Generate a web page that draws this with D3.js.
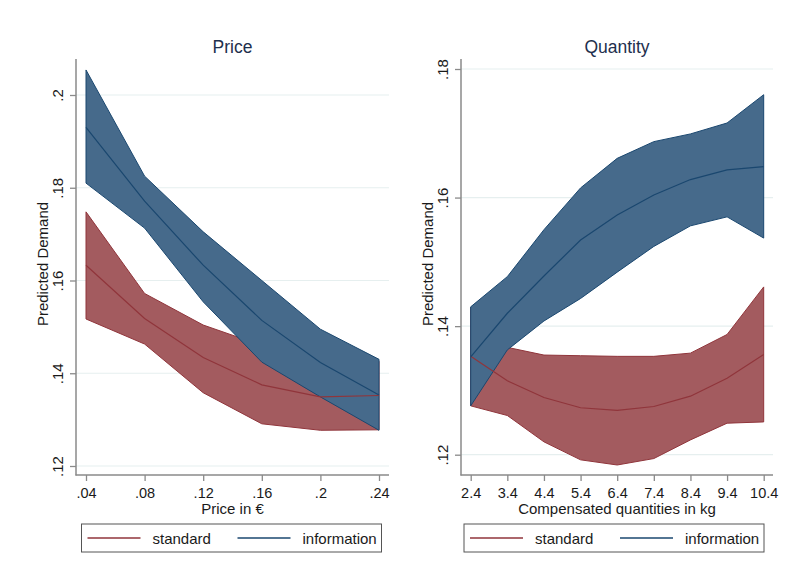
<!DOCTYPE html>
<html>
<head>
<meta charset="utf-8">
<script src="https://cdn.jsdelivr.net/npm/d3@7"></script>
<style>
  html, body { margin: 0; padding: 0; background: #fff; }
  svg { display: block; font-family: "Liberation Sans", Arial, sans-serif; }
</style>
</head>
<body>
<svg id="chart" width="788" height="577"></svg>
<script>
// Predicted demand with 95% bands, by price and by compensated quantity

const seriesNames = ["standard", "information"];

// Price panel
const priceX = [0.04, 0.08, 0.12, 0.16, 0.20, 0.24];
const priceXLabels = [".04", ".08", ".12", ".16", ".2", ".24"];
const priceYTicks = [0.12, 0.14, 0.16, 0.18, 0.20];
const priceYLabels = [".12", ".14", ".16", ".18", ".2"];
const priceStdMean = [0.1633, 0.1518, 0.1434, 0.1375, 0.1349, 0.1352];
const priceStdLo   = [0.1517, 0.1463, 0.1358, 0.1291, 0.1277, 0.1278];
const priceStdHi   = [0.1748, 0.1572, 0.1504, 0.1460, 0.1422, 0.1426];
const priceInfMean = [0.1930, 0.1771, 0.1633, 0.1514, 0.1423, 0.1353];
const priceInfLo   = [0.1810, 0.1713, 0.1554, 0.1424, 0.1349, 0.1277];
const priceInfHi   = [0.2054, 0.1825, 0.1705, 0.1600, 0.1495, 0.1430];

// Quantity panel
const qtyX = [2.4, 3.4, 4.4, 5.4, 6.4, 7.4, 8.4, 9.4, 10.4];
const qtyXLabels = ["2.4", "3.4", "4.4", "5.4", "6.4", "7.4", "8.4", "9.4", "10.4"];
const qtyYTicks = [0.12, 0.14, 0.16, 0.18];
const qtyYLabels = [".12", ".14", ".16", ".18"];
const qtyStdMean = [0.1353, 0.1315, 0.1289, 0.1273, 0.1269, 0.1275, 0.1291, 0.1319, 0.1356];
const qtyStdLo   = [0.1276, 0.1261, 0.1220, 0.1192, 0.1184, 0.1194, 0.1223, 0.1249, 0.1251];
const qtyStdHi   = [0.1429, 0.1367, 0.1355, 0.1354, 0.1353, 0.1353, 0.1358, 0.1387, 0.1461];
const qtyInfMean = [0.1352, 0.1420, 0.1478, 0.1534, 0.1573, 0.1604, 0.1628, 0.1643, 0.1648];
const qtyInfLo   = [0.1276, 0.1363, 0.1408, 0.1443, 0.1484, 0.1524, 0.1556, 0.1570, 0.1537];
const qtyInfHi   = [0.1430, 0.1477, 0.1550, 0.1615, 0.1661, 0.1687, 0.1699, 0.1716, 0.1760];

const lineColor = { standard: "#90353b", information: "#1a476f" };
const fillColor = { standard: "#a35b5f", information: "#466a8b" };
const axisColor = "#8a8a8a";
const gridColor = "#e6efef";
const textColor = "#1a1a1a";
const titleColor = "#1e2f4d";

const svg = d3.select("#chart");

const panels = [
  {
    title: "Price", xTitle: "Price in €",
    left: 76, right: 389, top: 59, bottom: 475,
    xDomain: [0.04, 0.24], xRange: [86, 379],
    yDomain: [0.12, 0.20], yRange: [466, 95],
    x: priceX, xLabels: priceXLabels, yTicks: priceYTicks, yLabels: priceYLabels,
    std: { mean: priceStdMean, lo: priceStdLo, hi: priceStdHi },
    inf: { mean: priceInfMean, lo: priceInfLo, hi: priceInfHi },
    yTitleX: 48, legendX: 81.5
  },
  {
    title: "Quantity", xTitle: "Compensated quantities in kg",
    left: 461, right: 773, top: 59, bottom: 475,
    xDomain: [2.4, 10.4], xRange: [470.7, 763.7],
    yDomain: [0.12, 0.18], yRange: [454.7, 69],
    x: qtyX, xLabels: qtyXLabels, yTicks: qtyYTicks, yLabels: qtyYLabels,
    std: { mean: qtyStdMean, lo: qtyStdLo, hi: qtyStdHi },
    inf: { mean: qtyInfMean, lo: qtyInfLo, hi: qtyInfHi },
    yTitleX: 433, legendX: 464
  }
];

panels.forEach(p => {
  const x = d3.scaleLinear().domain(p.xDomain).range(p.xRange);
  const y = d3.scaleLinear().domain(p.yDomain).range(p.yRange);
  const g = svg.append("g");

  // gridlines
  g.append("g").selectAll("line").data(p.yTicks).join("line")
    .attr("x1", p.left).attr("x2", p.right)
    .attr("y1", d => y(d)).attr("y2", d => y(d))
    .attr("stroke", gridColor).attr("stroke-width", 1.2);

  const rows = (s) => p.x.map((xv, i) => ({ x: xv, mean: s.mean[i], lo: s.lo[i], hi: s.hi[i] }));
  const area = d3.area().x(d => x(d.x)).y0(d => y(d.lo)).y1(d => y(d.hi));
  const line = d3.line().x(d => x(d.x)).y(d => y(d.mean));
  const series = [
    { key: "standard", rows: rows(p.std) },
    { key: "information", rows: rows(p.inf) }
  ];

  // confidence bands
  series.forEach(s => {
    g.append("path").datum(s.rows).attr("d", area)
      .attr("fill", fillColor[s.key])
      .attr("stroke", lineColor[s.key]).attr("stroke-width", 1)
      .attr("stroke-linejoin", "round");
  });
  // predicted means
  series.forEach(s => {
    g.append("path").datum(s.rows).attr("d", line)
      .attr("fill", "none")
      .attr("stroke", lineColor[s.key]).attr("stroke-width", 1.2);
  });

  // y axis
  const yAxis = d3.axisLeft(y).tickValues(p.yTicks)
    .tickFormat((d, i) => p.yLabels[i]).tickSize(6);
  const ya = g.append("g").attr("transform", `translate(${p.left},0)`).call(yAxis);
  ya.select(".domain").remove();
  ya.selectAll(".tick line").attr("stroke", axisColor).attr("stroke-width", 1.3);
  ya.selectAll(".tick text")
    .attr("transform", "rotate(-90)")
    .attr("x", 0).attr("y", -13).attr("dy", 0)
    .attr("text-anchor", "middle")
    .attr("fill", textColor)
    .style("font-size", "15px").style("font-family", "Liberation Sans, Arial, sans-serif");
  g.append("line")
    .attr("x1", p.left).attr("x2", p.left).attr("y1", p.top).attr("y2", p.bottom + 0.5)
    .attr("stroke", axisColor).attr("stroke-width", 1.5);

  // x axis
  const xAxis = d3.axisBottom(x).tickValues(p.x)
    .tickFormat((d, i) => p.xLabels[i]).tickSize(6);
  const xa = g.append("g").attr("transform", `translate(0,${p.bottom})`).call(xAxis);
  xa.select(".domain").remove();
  xa.selectAll(".tick line").attr("stroke", axisColor).attr("stroke-width", 1.3);
  xa.selectAll(".tick text")
    .attr("y", 23).attr("dy", 0)
    .attr("fill", textColor)
    .style("font-size", "14.5px").style("font-family", "Liberation Sans, Arial, sans-serif");
  g.append("line")
    .attr("x1", p.left - 0.5).attr("x2", p.right).attr("y1", p.bottom).attr("y2", p.bottom)
    .attr("stroke", axisColor).attr("stroke-width", 1.5);

  // titles
  g.append("text").text(p.title)
    .attr("x", (p.left + p.right) / 2).attr("y", 53)
    .attr("text-anchor", "middle").attr("fill", titleColor)
    .style("font-size", "17.5px");
  g.append("text").text(p.xTitle)
    .attr("x", (p.left + p.right) / 2).attr("y", 514)
    .attr("text-anchor", "middle").attr("fill", textColor)
    .style("font-size", "15px");
  g.append("text").text("Predicted Demand")
    .attr("transform", `translate(${p.yTitleX},${(p.top + p.bottom) / 2 - 3}) rotate(-90)`)
    .attr("text-anchor", "middle").attr("fill", textColor)
    .style("font-size", "15px");

  // legend
  const lg = g.append("g").attr("transform", `translate(${p.legendX},524)`);
  lg.append("rect").attr("x", 0).attr("y", 0).attr("width", 300).attr("height", 28)
    .attr("fill", "#fff").attr("stroke", "#555").attr("stroke-width", 1);
  const items = [
    { key: seriesNames[0], lx: 6, tx: 71 },
    { key: seriesNames[1], lx: 156, tx: 221 }
  ];
  items.forEach(it => {
    lg.append("line").attr("x1", it.lx).attr("x2", it.lx + 53)
      .attr("y1", 14).attr("y2", 14)
      .attr("stroke", lineColor[it.key]).attr("stroke-width", 1.3);
    lg.append("text").text(it.key).attr("x", it.tx).attr("y", 19.5)
      .attr("fill", textColor).style("font-size", "15px");
  });
});
</script>
</body>
</html>
